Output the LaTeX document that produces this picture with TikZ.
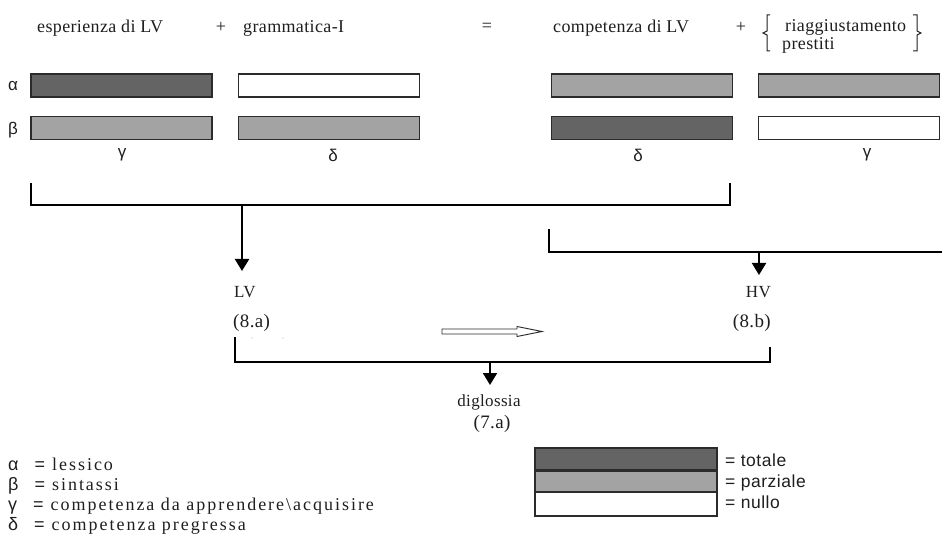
\documentclass[tikz,border=0pt]{standalone}
\usepackage{fontspec}
\setmainfont{Liberation Serif}
\newfontfamily\grk{Liberation Sans}
\newfontfamily\toptxt{Liberation Serif}[LetterSpace=2]
\newfontfamily\legtxt{Liberation Serif}[LetterSpace=11]
\newfontfamily\keytxt{Liberation Sans}[LetterSpace=3]
\usetikzlibrary{arrows.meta}
\definecolor{fullgray}{HTML}{646464}
\definecolor{partgray}{HTML}{A3A3A3}
\definecolor{barline}{HTML}{2B2B2B}
\definecolor{ink}{HTML}{1E1E1E}
\begin{document}
\begin{tikzpicture}[x=1pt,y=-1pt,
  bar/.style={draw=barline, line width=1.1pt, minimum width=181pt,
    minimum height=23pt, inner sep=0pt, outer sep=0pt},
  barfull/.style={bar, fill=fullgray},
  barpart/.style={bar, fill=partgray},
  barnone/.style={bar, fill=white},
  keybox/.style={bar, minimum width=182pt, minimum height=22pt},
  link/.style={line width=2pt, black},
  arrowdown/.style={link, -{Triangle[width=14pt,length=12pt]}},
  bracepen/.style={line width=1pt, ink},
  hollow/.style={line width=0.9pt, draw=barline, fill=white},
  head/.style={inner sep=0pt, anchor=base west, text=ink,
    font=\toptxt\fontsize{18}{20}\selectfont},
  sym/.style={inner sep=0pt, text=ink, font=\fontsize{18}{20}\selectfont},
  greek/.style={inner sep=0pt, text=ink, font=\grk\fontsize{17}{20}\selectfont},
  lab/.style={inner sep=0pt, anchor=base west, text=ink,
    font=\toptxt\fontsize{17}{19}\selectfont},
  num/.style={inner sep=0pt, text=ink,
    font=\toptxt\fontsize{19}{21}\selectfont},
  legline/.style={inner sep=0pt, anchor=base west, text=ink,
    font=\legtxt\fontsize{18}{20}\selectfont},
  keyline/.style={inner sep=0pt, anchor=base west, text=ink,
    font=\keytxt\fontsize{17.5}{20}\selectfont}]
\useasboundingbox (0,0) rectangle (942,537);

% headings of the equation
\node[head] (hexp) at (37,33) {esperienza di LV};
\node[sym] (plus1) at (221,27) {+};
\node[head] (hgram) at (243,33) {grammatica-I};
\node[sym] (eq) at (487,27) {=};
\node[head] (hcomp) at (553,33) {competenza di LV};
\node[sym] (plus2) at (741,27) {+};
\node[head] (hria) at (785,32) {riaggiustamento};
\node[head] (hpre) at (782,50) {prestiti};
\draw[bracepen] (770,15) -- (767,15) -- (767,31) -- (763,33) -- (767,35) -- (767,51) -- (770,51);
\draw[bracepen] (913,15) -- (917,15) -- (917,31) -- (921,33) -- (917,35) -- (917,51) -- (913,51);

% row labels
\node[greek] (ra) at (13,86) {α};
\node[greek] (rb) at (13,130) {β};

% bars
\node[barfull] (a1) at (121.5,85.5) {};
\node[barpart] (b1) at (121.5,128) {};
\node[barnone] (a2) at (329,85.5) {};
\node[barpart] (b2) at (329,128) {};
\node[barpart] (a3) at (642,85.5) {};
\node[barfull] (b3) at (642,128) {};
\node[barpart] (a4) at (849,85.5) {};
\node[barnone] (b4) at (849,128) {};

% column labels
\node[greek] (c1) at (122,155) {γ};
\node[greek] (c2) at (333,155) {δ};
\node[greek] (c3) at (638,155) {δ};
\node[greek] (c4) at (867,155) {γ};

% first bracket: experience + grammar -> LV
\coordinate (k1l) at (31,183);
\coordinate (k1r) at (730,183);
\coordinate (j1) at (242,205);
\coordinate (t1) at (242,271);
\draw[link] (k1l) -- (31,205) -| (k1r);
\draw[arrowdown] (j1) -- (t1);

% second bracket -> HV
\coordinate (k2l) at (549,229);
\coordinate (k2r) at (943,252);
\coordinate (j2) at (759,252);
\coordinate (t2) at (759,275);
\draw[link] (k2l) |- (k2r);
\draw[arrowdown] (j2) -- (t2);

% varieties
\node[lab] (lv) at (234,298) {LV};
\node[num, anchor=base west] (lva) at (233,327) {(8.a)};
\node[lab, anchor=base east] (hv) at (771,298) {HV};
\node[num, anchor=base east] (hvb) at (771,327) {(8.b)};
\fill[gray!60] (252,338) circle (0.7);
\fill[gray!60] (283,338) circle (0.7);

% hollow arrow from LV to HV
\draw[hollow] (442,329) -- (517,329) -- (517,326.5) -- (542,331.5) -- (517,336.5)
  -- (517,334) -- (442,334) -- cycle;

% third bracket -> diglossia
\coordinate (k3l) at (235,337);
\coordinate (k3r) at (770,347);
\coordinate (j3) at (490,362);
\coordinate (t3) at (490,385);
\draw[link] (k3l) -- (235,362) -| (k3r);
\draw[arrowdown] (j3) -- (t3);
\node[lab, anchor=base] (dig) at (489,406) {diglossia};
\node[num, anchor=base] (dga) at (492,428) {(7.a)};

% legend of symbols
\node[legline] (l1) at (8,470) {{\grk α}\hspace{16pt}{\grk =}\hspace{7pt}lessico};
\node[legline] (l2) at (8,490) {{\grk β}\hspace{16pt}{\grk =}\hspace{7pt}sintassi};
\node[legline] (l3) at (8,510) {{\grk γ}\hspace{16pt}{\grk =}\hspace{7pt}competenza da apprendere\textbackslash acquisire};
\node[legline] (l4) at (8,530) {{\grk δ}\hspace{16pt}{\grk =}\hspace{7pt}competenza pregressa};

% legend of shades
\node[keybox, fill=fullgray] (kt) at (626,459) {};
\node[keybox, fill=partgray, minimum height=21pt] (kp) at (626,481.5) {};
\node[keybox, fill=white, minimum height=24pt] (kn) at (626,504) {};
\node[keyline] (ktl) at (725,466) {= totale};
\node[keyline] (kpl) at (725,487) {= parziale};
\node[keyline] (knl) at (725,508) {= nullo};
\end{tikzpicture}
\end{document}
